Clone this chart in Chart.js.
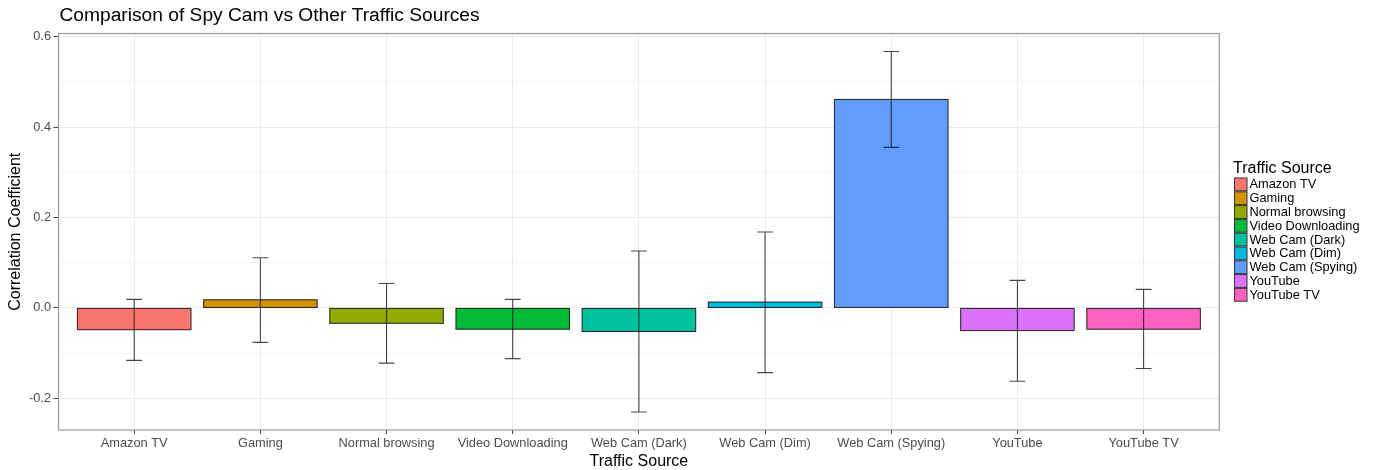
<!DOCTYPE html>
<html>
<head>
<meta charset="utf-8">
<script src="https://cdn.jsdelivr.net/npm/chart.js@4.4.1/dist/chart.umd.min.js"></script>
<style>
  html, body { margin: 0; padding: 0; background: #ffffff; }
  canvas { display: block; }
</style>
</head>
<body>
<canvas id="chart" width="1373" height="470"></canvas>
<script>
// Traffic sources and their correlation with spy-cam traffic
const categories = [
  'Amazon TV', 'Gaming', 'Normal browsing', 'Video Downloading',
  'Web Cam (Dark)', 'Web Cam (Dim)', 'Web Cam (Spying)', 'YouTube', 'YouTube TV'
];
const meanValues = [-0.048, 0.018, -0.034, -0.047, -0.052, 0.013, 0.461, -0.050, -0.047];
const errLow     = [-0.116, -0.076, -0.122, -0.112, -0.230, -0.143, 0.355, -0.162, -0.134];
const errHigh    = [ 0.019,  0.111,  0.054,  0.019,  0.126,  0.168, 0.567,  0.061,  0.041];
const barColors  = ['#F8766D', '#D39200', '#93AA00', '#00BA38', '#00C19F', '#00B9E3', '#619CFF', '#DB72FB', '#FF61C3'];
const yTickValues = [-0.2, -0.1, 0.0, 0.1, 0.2, 0.3, 0.4, 0.5, 0.6];

const FONT = "'Liberation Sans', Arial, Helvetica, sans-serif";

// y range: data extent padded by 5% on each side
const dataLo = Math.min(0, ...errLow, ...meanValues);
const dataHi = Math.max(0, ...errHigh, ...meanValues);
const pad = (dataHi - dataLo) * 0.05;

const isMajor = v => Math.abs(Math.round(v * 10)) % 2 === 0;

const overlay = {
  id: 'overlay',
  afterDatasetsDraw(chart) {
    const { ctx, chartArea: a, scales: { x, y } } = chart;
    ctx.save();
    // bar outlines, centred on the bar edges
    const meta = chart.getDatasetMeta(0);
    ctx.strokeStyle = 'rgba(20,20,20,0.85)';
    ctx.lineWidth = 1.1;
    meta.data.forEach(bar => {
      const p = bar.getProps(['x', 'y', 'base', 'width'], true);
      const left = p.x - p.width / 2;
      const top = Math.min(p.y, p.base);
      ctx.strokeRect(left, top, p.width, Math.abs(p.base - p.y));
    });
    // error bars
    ctx.strokeStyle = 'rgba(0,0,0,0.72)';
    ctx.lineWidth = 1.1;
    const hw = Math.abs(x.getPixelForValue(1.0625) - x.getPixelForValue(1));
    categories.forEach((c, i) => {
      const cx = x.getPixelForValue(i + 1);
      const yl = y.getPixelForValue(errLow[i]);
      const yh = y.getPixelForValue(errHigh[i]);
      ctx.beginPath();
      ctx.moveTo(cx, yl); ctx.lineTo(cx, yh);
      ctx.moveTo(cx - hw, yl); ctx.lineTo(cx + hw, yl);
      ctx.moveTo(cx - hw, yh); ctx.lineTo(cx + hw, yh);
      ctx.stroke();
    });
    // panel border
    ctx.strokeStyle = '#9a9a9a';
    ctx.lineWidth = 1.2;
    ctx.strokeRect(a.left, a.top, a.right - a.left, a.bottom - a.top);
    ctx.restore();
  },
  afterDraw(chart) {
    const { ctx, chartArea: a } = chart;
    ctx.save();
    ctx.fillStyle = '#000';
    // chart title
    ctx.font = `19.2px ${FONT}`;
    ctx.textAlign = 'left';
    ctx.textBaseline = 'middle';
    ctx.fillText('Comparison of Spy Cam vs Other Traffic Sources', 59.5, 15.5);
    // axis titles
    ctx.font = `16px ${FONT}`;
    ctx.textAlign = 'center';
    ctx.fillText('Traffic Source', (a.left + a.right) / 2, 461.5);
    ctx.save();
    ctx.translate(16, (a.top + a.bottom) / 2);
    ctx.rotate(-Math.PI / 2);
    ctx.fillText('Correlation Coefficient', 0, 0);
    ctx.restore();
    // legend
    ctx.textAlign = 'left';
    ctx.fillText('Traffic Source', 1233, 168.5);
    const rowH = 13.8, top0 = 177.5;
    ctx.font = `12.8px ${FONT}`;
    categories.forEach((c, i) => {
      const ty = top0 + i * rowH;
      ctx.fillStyle = barColors[i];
      ctx.fillRect(1234.5, ty + 0.5, 12.5, rowH - 1);
      ctx.strokeStyle = '#333';
      ctx.lineWidth = 1;
      ctx.strokeRect(1234.5, ty + 0.5, 12.5, rowH - 1);
      ctx.fillStyle = '#000';
      ctx.fillText(c, 1249.5, ty + rowH / 2 + 0.5);
    });
    ctx.restore();
  }
};

new Chart(document.getElementById('chart').getContext('2d'), {
  type: 'bar',
  data: {
    datasets: [{
      data: categories.map((c, i) => ({ x: i + 1, y: meanValues[i] })),
      backgroundColor: barColors,
      borderWidth: 0,
      barPercentage: 0.9,
      categoryPercentage: 1.0
    }]
  },
  options: {
    responsive: false,
    animation: false,
    devicePixelRatio: 1,
    layout: { padding: { left: 0, right: 153.7, top: 33.5, bottom: 0 } },
    plugins: { legend: { display: false }, tooltip: { enabled: false }, title: { display: false } },
    scales: {
      x: {
        type: 'linear',
        min: 0.4,
        max: 9.6,
        offset: false,
        afterBuildTicks: s => { s.ticks = categories.map((c, i) => ({ value: i + 1 })); },
        afterFit: s => { s.height = 40; },
        border: { display: false },
        grid: { color: '#ebebeb', lineWidth: 1, offset: false, drawTicks: true, tickLength: 4, tickColor: '#444' },
        ticks: {
          callback: v => categories[Math.round(v) - 1],
          color: '#4d4d4d',
          font: { family: FONT, size: 12.8 },
          padding: 2,
          maxRotation: 0,
          autoSkip: false
        }
      },
      y: {
        type: 'linear',
        min: dataLo - pad,
        max: dataHi + pad,
        afterBuildTicks: s => { s.ticks = yTickValues.map(v => ({ value: v })); },
        afterFit: s => { s.width = 58.5; },
        border: { display: false },
        grid: {
          color: c => (c.tick && isMajor(c.tick.value)) ? '#ebebeb' : '#f5f5f5',
          tickColor: c => (c.tick && isMajor(c.tick.value)) ? '#444' : 'rgba(0,0,0,0)',
          lineWidth: 1,
          tickLength: 5
        },
        ticks: {
          callback: v => isMajor(v) ? v.toFixed(1) : '',
          color: '#4d4d4d',
          font: { family: FONT, size: 12.8 },
          padding: 2.5,
          autoSkip: false
        }
      }
    }
  },
  plugins: [overlay]
});
</script>
</body>
</html>
